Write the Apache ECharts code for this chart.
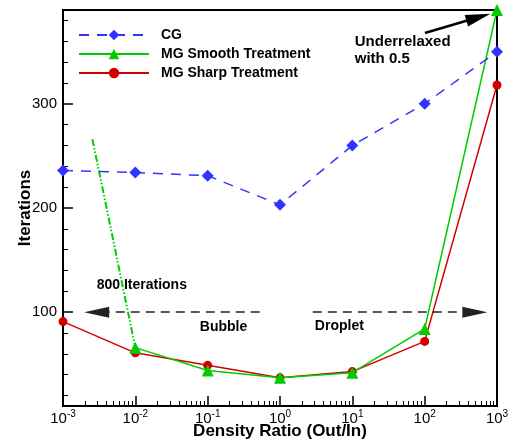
<!DOCTYPE html>
<html lang="en">
<head>
<meta charset="UTF-8">
<title>Iterations vs density ratio</title>
<style>
    html,body{margin:0;padding:0;background:#fff;}
    #mychart{width:514px;height:444px;}
</style>
</head>
<body>
<div id="mychart"></div>
<script src="https://cdn.jsdelivr.net/npm/echarts@6/dist/echarts.min.js"></script>
<script>
var font='"Liberation Sans", Arial, sans-serif'
// density ratio (out/in)
var ratios=[0.001,0.01,0.1,1,10,100,1000]
var cgIter=[236,234,231,203,260,300,350]
var smoothIter=[null,66,44,37,42,84,390]
var sharpIter=[91,61,49,37,43,72,318]
// dash-dot piece of the smooth curve heading to the 800 iterations point
var offX=[0.00255,0.01]
var offY=[266,66]
// y axis ticks
var yMajor=[100,200,300]
var yMinor=[20,40,60,80,120,140,160,180,220,240,260,280,320,340,360,380]
// arrows: [x0,y0,x1,y1] in data units
var arrows=[
    [0.525,100,0.00292,100],
    [2.84,100,494,100],
    [100.7,368,553,383]
]
// text notes: [x,y,text,fontSize]
var notes=[
    [0.00292,126,'800 Iterations',14],
    [0.0778,86,'Bubble',14],
    [3.03,87,'Droplet',14],
    [10.8,359,'Underrelaxed',15],
    [10.8,343,'with 0.5',15]
]

function pairs(xs,ys){
    let out=[]
    for(let i=0;i<xs.length;i++){
        if(ys[i]!=null) out.push([xs[i],ys[i]])
    }
    return out
}
var xMinor=[]
for(let k=-3;k<3;k++){
    for(let m=2;m<=9;m++) xMinor.push(k+Math.log10(m))
}

var myChart=echarts.init(document.getElementById('mychart'))
var arrowLines=arrows.map(a=>[{coord:[a[0],a[1]]},{coord:[a[2],a[3]]}])

var option={
    animation:false,
    backgroundColor:'#fff',
    grid:{left:63,right:17,top:10,bottom:38,outerBoundsMode:'none',containLabel:false,
        show:true,borderColor:'#000',borderWidth:2,backgroundColor:'transparent'},
    legend:{
        orient:'vertical',left:78,top:28,padding:0,itemWidth:70,itemHeight:13,itemGap:5,
        textStyle:{fontSize:14,fontWeight:'bold',fontFamily:font,color:'#000',padding:[0,0,0,7]},
        data:['CG','MG Smooth Treatment','MG Sharp Treatment']
    },
    xAxis:[
        {
            type:'log',logBase:10,min:0.001,max:1000,interval:1,
            name:'Density Ratio (Out/In)',nameLocation:'middle',nameGap:17,nameMoveOverlap:false,
            nameTextStyle:{fontSize:17,fontWeight:'bold',fontFamily:font,color:'#000'},
            axisLine:{show:false,onZero:false},
            axisTick:{show:true,inside:true,length:10,lineStyle:{color:'#000',width:1.5}},
            axisLabel:{
                margin:3,color:'#000',fontFamily:font,fontSize:15,
                formatter:function(v){
                    let e=Math.round(Math.log10(v))
                    return '10{sup|'+e+'}'
                },
                rich:{sup:{fontSize:10,fontFamily:font,color:'#000',padding:[0,0,9,0]}}
            },
            splitLine:{show:false}
        },
        {
            type:'value',min:-3,max:3,position:'bottom',
            axisLine:{show:false,onZero:false},axisLabel:{show:false},splitLine:{show:false},
            axisTick:{show:true,inside:true,length:5,customValues:xMinor,lineStyle:{color:'#000',width:1}}
        }
    ],
    yAxis:[
        {
            type:'value',min:10,max:390,position:'left',
            name:'Iterations',nameLocation:'middle',nameGap:29,nameMoveOverlap:false,
            nameTextStyle:{fontSize:17,fontWeight:'bold',fontFamily:font,color:'#000'},
            axisLine:{show:false,onZero:false},
            axisTick:{show:true,inside:true,length:10,customValues:yMajor,lineStyle:{color:'#000',width:1.5}},
            axisLabel:{margin:6,color:'#000',fontFamily:font,fontSize:15,customValues:yMajor},
            splitLine:{show:false}
        },
        {
            type:'value',min:10,max:390,position:'left',
            axisLine:{show:false,onZero:false},axisLabel:{show:false},splitLine:{show:false},
            axisTick:{show:true,inside:true,length:5,customValues:yMinor,lineStyle:{color:'#000',width:1}}
        }
    ],
    series:[
        {
            name:'MG Sharp Treatment',type:'line',clip:false,
            data:pairs(ratios,sharpIter),
            symbol:'circle',symbolSize:9,
            lineStyle:{color:'#d40000',width:1.5},
            itemStyle:{color:'#d40000'},z:3
        },
        {
            name:'MG Smooth Treatment',type:'line',clip:false,
            data:pairs(ratios,smoothIter),
            symbol:'triangle',symbolSize:12,
            lineStyle:{color:'#00cc00',width:1.5},
            itemStyle:{color:'#00cc00'},z:4
        },
        {
            name:'smooth off',type:'line',
            data:pairs(offX,offY),
            symbol:'none',
            lineStyle:{color:'#00cc00',width:2,type:[7,2,1.5,2,1.5,2]},z:2
        },
        {
            name:'CG',type:'line',clip:false,
            data:pairs(ratios,cgIter),
            symbol:'diamond',symbolSize:12,
            lineStyle:{color:'#3333ff',width:1.5,type:[10,8]},
            itemStyle:{color:'#3333ff'},z:5
        },
        {
            name:'arrows',type:'line',data:[],
            markLine:{
                silent:true,animation:false,
                symbol:['none','triangle'],symbolSize:[11,25],
                label:{show:false},
                lineStyle:{color:'#222',width:1.5,type:[9,6]},
                data:arrowLines.slice(0,2)
            }
        },
        {
            name:'arrow2',type:'line',data:[],
            markLine:{
                silent:true,animation:false,
                symbol:['none','triangle'],symbolSize:[12,25],
                label:{show:false},
                lineStyle:{color:'#000',width:2.5,type:'solid'},
                data:arrowLines.slice(2)
            }
        }
    ]
}
myChart.setOption(option)

// place the text notes through the axes
var texts=notes.map(n=>{
    let p=myChart.convertToPixel({xAxisIndex:0,yAxisIndex:0},[n[0],n[1]])
    return {
        type:'text',x:p[0],y:p[1],
        style:{text:n[2],fontSize:n[3],fontWeight:'bold',fontFamily:font,fill:'#000',verticalAlign:'middle',align:'left'}
    }
})
myChart.setOption({graphic:texts})
</script>
</body>
</html>
